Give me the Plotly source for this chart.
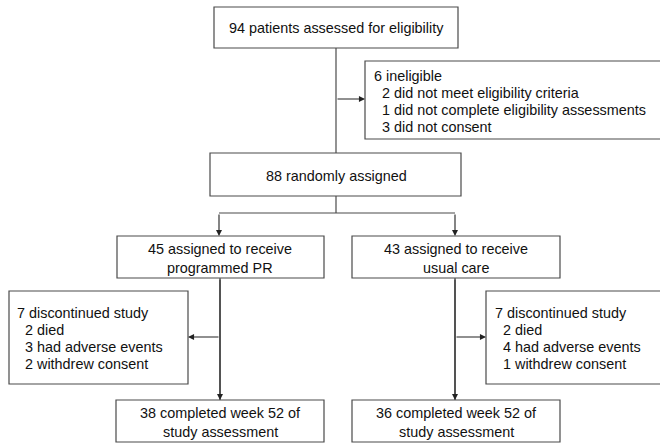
import plotly.graph_objects as go

# ---- content ----
screened_label = ["94 patients assessed for eligibility"]
ineligible_lines = ["6 ineligible",
                    "  2 did not meet eligibility criteria",
                    "  1 did not complete eligibility assessments",
                    "  3 did not consent"]
randomized_label = ["88 randomly assigned"]
arm_labels = [["45 assigned to receive", "programmed PR"],
              ["43 assigned to receive", "usual care"]]
discontinued_lines = [["7 discontinued study", "  2 died", "  3 had adverse events", "  2 withdrew consent"],
                      ["7 discontinued study", "  2 died", "  4 had adverse events", "  1 withdrew consent"]]
completed_labels = [["38 completed week 52 of", "study assessment"],
                    ["36 completed week 52 of", "study assessment"]]

# ---- layout geometry (pixels) ----
W, H = 660, 446
LINE = "#4a4a4a"
FONT = dict(family="Arial, Liberation Sans, sans-serif", size=14.4, color="#111111")

fig = go.Figure()
shapes = []
annotations = []

def box(x0, y0, x1, y1):
    shapes.append(dict(type="rect", x0=x0, y0=y0, x1=x1, y1=y1, xref="x", yref="y",
                       line=dict(color=LINE, width=1.2), fillcolor="white", layer="above"))

def seg(x0, y0, x1, y1):
    shapes.append(dict(type="line", x0=x0, y0=y0, x1=x1, y1=y1, xref="x", yref="y",
                       line=dict(color=LINE, width=1.2), layer="below"))

def arrow(x0, y0, x1, y1):
    annotations.append(dict(x=x1, y=y1, ax=x0, ay=y0, xref="x", yref="y", axref="x", ayref="y",
                            text="", showarrow=True, arrowhead=2, arrowsize=1.1,
                            arrowwidth=1.1, arrowcolor="#222222", standoff=0))

def centered(lines, cx, cy0, dy=19):
    for i, t in enumerate(lines):
        annotations.append(dict(x=cx, y=cy0 + i * dy, xref="x", yref="y", text=t,
                                showarrow=False, font=FONT, xanchor="center", yanchor="middle"))

def left_text(lines, x, cy0, dy=17.2):
    for i, t in enumerate(lines):
        annotations.append(dict(x=x, y=cy0 + i * dy, xref="x", yref="y",
                                text=t.replace("  ", "&nbsp;&nbsp;"),
                                showarrow=False, font=FONT, xanchor="left", yanchor="middle"))

# boxes
box(214, 7, 458, 48)
box(365, 61, 664, 139)
box(210, 153, 461, 196)
box(117, 236, 324, 278)
box(352, 236, 560, 278)
box(9, 291, 188, 384)
box(486, 291, 664, 384)
box(116, 400, 324, 442)
box(352, 400, 560, 442)

# connectors
seg(336, 48, 336, 153)
arrow(336, 99, 365, 99)
seg(336, 196, 336, 213)
seg(219, 213, 455, 213)
arrow(219, 213, 219, 236)
arrow(455, 213, 455, 236)
seg(220, 278, 220, 400)
arrow(220, 278, 220, 400)
arrow(220, 337, 188, 337)
seg(455, 278, 455, 400)
arrow(455, 278, 455, 400)
arrow(455, 337, 486, 337)

# texts
centered(screened_label, 336, 28)
left_text(ineligible_lines, 372, 75.5)
centered(randomized_label, 336, 176)
centered(arm_labels[0], 220, 249)
centered(arm_labels[1], 456, 249)
left_text(discontinued_lines[0], 15, 312.5)
left_text(discontinued_lines[1], 493, 312.5)
centered(completed_labels[0], 220, 413)
centered(completed_labels[1], 456, 413)

fig.update_layout(
    width=W, height=H, margin=dict(l=0, r=0, t=0, b=0),
    paper_bgcolor="white", plot_bgcolor="white",
    xaxis=dict(range=[0, W], visible=False, fixedrange=True),
    yaxis=dict(range=[H, 0], visible=False, fixedrange=True),
    shapes=shapes, annotations=annotations, showlegend=False,
)
fig.write_html("out.html", config={"displayModeBar": False},
               post_script="document.body.style.margin='0';document.body.style.overflow='hidden';")
